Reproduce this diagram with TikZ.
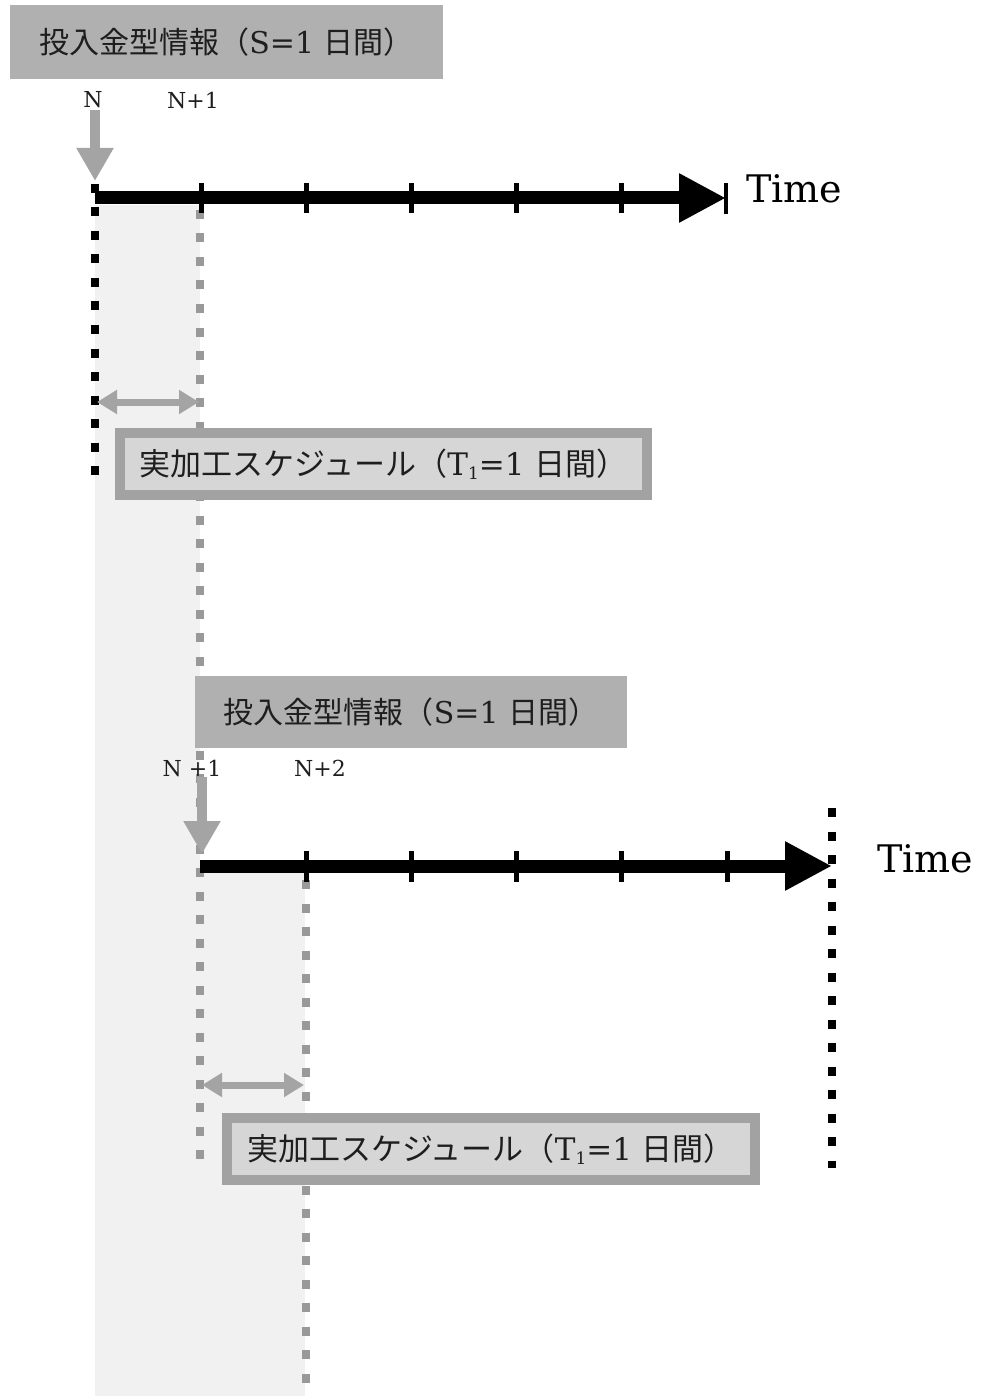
\documentclass[tikz,border=0pt]{standalone}
\usepackage{fontspec}
\setmainfont{DejaVu Serif}
\newfontfamily\cjk{Noto Sans CJK JP}
\usetikzlibrary{arrows.meta}
\definecolor{boxfill}{HTML}{B0B0B0}
\definecolor{boxrim}{HTML}{A2A2A2}
\definecolor{boxinner}{HTML}{D6D6D6}
\definecolor{arrowgray}{HTML}{A4A4A4}
\definecolor{dotgray}{HTML}{999999}
\definecolor{bandgray}{HTML}{F1F1F1}
\definecolor{ink}{HTML}{1E1E1E}
\newcommand\jp[1]{{\cjk #1}}
\newcommand\subone{\raisebox{-0.12em}{\fontsize{17}{17}\selectfont 1}}
\tikzset{
  infobox/.style={fill=boxfill, minimum width=433pt, minimum height=74pt, inner sep=0pt,
    text=ink, font=\fontsize{30}{34}\selectfont},
  schedbox/.style={fill=boxinner, draw=boxrim, line width=10pt, minimum width=527pt,
    minimum height=62pt, inner sep=0pt, text=ink, font=\fontsize{31}{34}\selectfont},
  ticklabel/.style={font=\fontsize{22}{26}\selectfont, text=ink, inner sep=0pt},
  timelabel/.style={font=\fontsize{38}{44}\selectfont, text=black, anchor=base west, inner sep=0pt},
  timeline/.style={line width=13pt, black, -{Triangle[length=47pt,width=46pt]}},
  tickmark/.style={line width=5pt, black},
  endbar/.style={line width=4pt, black},
  downarrow/.style={line width=10pt, arrowgray, -{Triangle[length=33pt,width=35pt]}},
  spanarrow/.style={line width=7pt, arrowgray, {Triangle[length=20pt,width=23pt]}-{Triangle[length=20pt,width=23pt]}},
  blackdots/.style={line width=8pt, black, dash pattern=on 9pt off 14.5pt},
  graydots/.style={line width=8pt, dotgray, dash pattern=on 9pt off 14.5pt},
}
\begin{document}
\begin{tikzpicture}[x=1pt,y=-1pt]
\useasboundingbox (0,0) rectangle (983,1396);
% background bands
\fill[bandgray] (95,205) rectangle (200,1396);
\fill[bandgray] (200,872) rectangle (305,1396);

% dotted guides
\coordinate (g1a) at (200,210);
\coordinate (g1b) at (200,1168);
\coordinate (g2a) at (306,880);
\coordinate (g2b) at (306,1396);
\coordinate (b1a) at (95,184);
\coordinate (b1b) at (95,476);
\coordinate (b2a) at (832,808);
\coordinate (b2b) at (832,1168);
\draw[graydots] (g1a) -- (g1b);
\draw[graydots] (g2a) -- (g2b);
\draw[blackdots] (b1a) -- (b1b);

% top info box
\node[infobox] (info1) at (226.5,42) {\jp{投入金型情報（}S=1 \jp{日間）}};
\node[ticklabel] (n1) at (93,100) {N};
\node[ticklabel] (n1p) at (193,100) {N+1};
\coordinate (a1s) at (95,110);
\coordinate (a1e) at (95,181);
\draw[downarrow] (a1s) -- (a1e);

% timeline 1
\coordinate (t1s) at (95,198);
\coordinate (t1e) at (726,198);
\draw[timeline] (t1s) -- (t1e);
\foreach \x/\n in {201/a,306/b,411/c,516/d,621/e} {
  \coordinate (k1\n t) at (\x,183);
  \coordinate (k1\n b) at (\x,213);
  \draw[tickmark] (k1\n t) -- (k1\n b);
}
\coordinate (bar1t) at (726,183);
\coordinate (bar1b) at (726,214);
\draw[endbar] (bar1t) -- (bar1b);
\node[timelabel] (time1) at (746,203) {Time};

% span arrow 1
\coordinate (s1a) at (97,402);
\coordinate (s1b) at (199,402);
\draw[spanarrow] (s1a) -- (s1b);

% schedule box 1
\node[schedbox] (sched1) at (383.5,464) {\jp{実加工スケジュール（}T\subone=1 \jp{日間）}};

% second info box
\node[infobox, minimum width=432pt, minimum height=72pt] (info2) at (411,712) {\jp{投入金型情報（}S=1 \jp{日間）}};
\node[ticklabel] (n2) at (192,768) {N +1};
\node[ticklabel] (n2p) at (320,768) {N+2};
\coordinate (a2s) at (202,777);
\coordinate (a2e) at (202,854);
\draw[downarrow] (a2s) -- (a2e);

% right black dotted guide
\draw[blackdots] (b2a) -- (b2b);

% timeline 2
\coordinate (t2s) at (200,866);
\coordinate (t2e) at (832,866);
\draw[timeline] (t2s) -- (t2e);
\foreach \x/\n in {306/a,411/b,516/c,621/d,727/e} {
  \coordinate (k2\n t) at (\x,851);
  \coordinate (k2\n b) at (\x,882);
  \draw[tickmark] (k2\n t) -- (k2\n b);
}
\node[timelabel] (time2) at (877,872) {Time};

% span arrow 2
\coordinate (s2a) at (202,1085);
\coordinate (s2b) at (304,1085);
\draw[spanarrow] (s2a) -- (s2b);

% schedule box 2
\node[schedbox, minimum width=528pt] (sched2) at (491,1149) {\jp{実加工スケジュール（}T\subone=1 \jp{日間）}};
\end{tikzpicture}
\end{document}
